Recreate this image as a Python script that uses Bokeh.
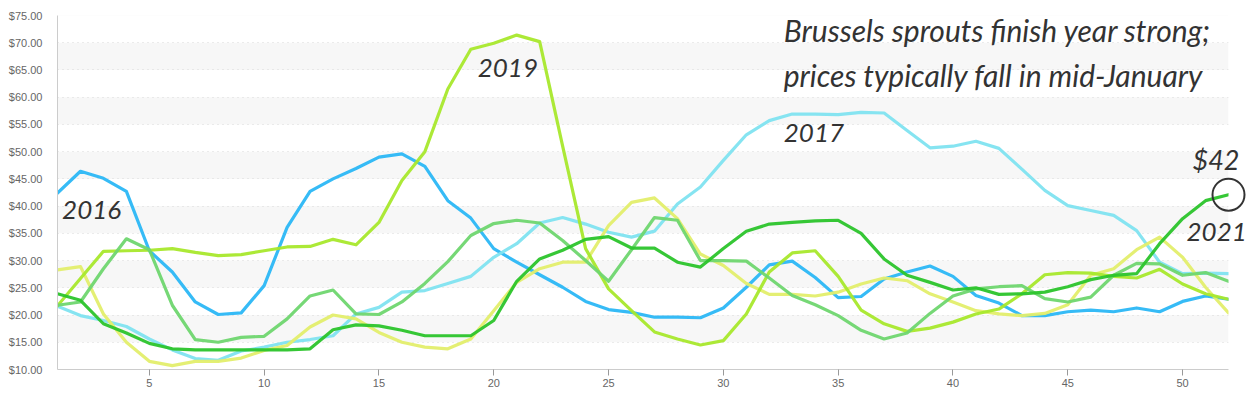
from bokeh.plotting import figure
from bokeh.models import Range1d, FixedTicker, NumeralTickFormatter, Label, ColumnDataSource
from bokeh.core.properties import value
from bokeh.embed import file_html
from bokeh.resources import INLINE

weeks = list(range(1, 53))

price_2016 = [42.4, 46.4, 45.1, 42.7, 31.8, 27.9, 22.4, 20.1, 20.4, 25.4,
              36.1, 42.7, 45.0, 46.9, 49.0, 49.6, 47.3, 41.0, 37.8, 32.2,
              29.7, 27.4, 25.1, 22.5, 21.0, 20.5, 19.6, 19.6, 19.5, 21.3,
              25.1, 29.2, 29.9, 26.9, 23.2, 23.4, 26.6, 27.9, 29.0, 27.1,
              23.6, 22.2, 19.9, 19.9, 20.6, 20.9, 20.6, 21.3, 20.6, 22.5,
              23.5, 22.9]
price_2017 = [21.6, 19.9, 19.0, 17.9, 15.6, 13.6, 12.0, 11.7, 13.4, 14.1,
              15.0, 15.5, 16.2, 20.2, 21.4, 24.2, 24.5, 25.8, 27.1, 30.6,
              33.1, 36.9, 37.9, 36.7, 35.2, 34.3, 35.4, 40.4, 43.5, 48.4,
              53.1, 55.7, 56.9, 56.9, 56.8, 57.2, 57.1, 53.9, 50.7, 51.0,
              51.9, 50.6, 46.8, 42.9, 40.1, 39.2, 38.3, 35.5, 29.7, 27.6,
              27.7, 27.6]
price_2018 = [28.3, 28.9, 20.2, 15.0, 11.5, 10.7, 11.5, 11.5, 12.1, 13.5,
              14.4, 17.8, 20.0, 19.3, 16.8, 15.0, 14.1, 13.8, 15.6, 20.8,
              26.0, 28.5, 29.7, 29.7, 36.4, 40.7, 41.5, 37.7, 31.2, 29.1,
              25.8, 23.8, 23.8, 23.5, 24.2, 25.7, 26.8, 26.3, 23.9, 22.4,
              20.8, 20.2, 19.9, 20.3, 21.9, 27.3, 28.5, 32.0, 34.3, 30.6,
              25.1, 20.4]
price_2019 = [21.7, 26.7, 31.7, 31.8, 31.9, 32.2, 31.5, 30.9, 31.1, 31.8,
              32.5, 32.6, 33.9, 32.9, 37.0, 44.7, 50.0, 61.5, 68.8, 69.9,
              71.4, 70.2, 51.0, 32.2, 24.8, 20.8, 16.9, 15.6, 14.5, 15.3,
              20.2, 27.9, 31.4, 31.8, 27.1, 20.9, 18.4, 17.0, 17.6, 18.7,
              20.2, 21.1, 23.9, 27.4, 27.8, 27.7, 27.1, 26.8, 28.4, 25.7,
              23.9, 22.9]
price_2020 = [21.8, 22.4, 28.5, 34.0, 32.0, 21.8, 15.5, 15.0, 15.9, 16.1,
              19.3, 23.5, 24.6, 20.2, 20.1, 22.4, 25.8, 29.8, 34.6, 36.8,
              37.4, 36.9, 33.7, 30.0, 26.2, 32.0, 37.9, 37.4, 30.0, 30.0,
              29.9, 26.8, 23.6, 21.9, 19.9, 17.2, 15.6, 16.7, 20.3, 23.5,
              24.8, 25.2, 25.4, 23.0, 22.4, 23.3, 27.3, 29.5, 29.4, 27.3,
              27.8, 26.2]
price_2021 = [23.9, 22.7, 18.4, 16.7, 14.8, 13.8, 13.6, 13.6, 13.6, 13.6,
              13.6, 13.8, 17.3, 18.2, 18.0, 17.2, 16.2, 16.2, 16.2, 19.0,
              26.2, 30.3, 31.9, 33.9, 34.4, 32.3, 32.3, 29.7, 28.8, 32.2,
              35.4, 36.7, 37.0, 37.3, 37.4, 35.0, 30.3, 27.3, 26.0, 24.6,
              25.0, 23.8, 23.9, 24.2, 25.2, 26.5, 27.3, 27.6, 33.1, 37.7,
              41.0, 42.1]

series_names = ["2016", "2017", "2018", "2019", "2020", "2021"]
series_colors = ["#2bb7f5", "#7fe3f0", "#e3ee6c", "#a8e82c", "#6fd66f", "#2bc42b"]
series_values = [price_2016, price_2017, price_2018, price_2019, price_2020, price_2021]

x_ticks = [5, 10, 15, 20, 25, 30, 35, 40, 45, 50]
y_ticks = [10, 15, 20, 25, 30, 35, 40, 45, 50, 55, 60, 65, 70, 75]
band_ticks = [5] + y_ticks + [80]

title_lines = ["Brussels sprouts finish year strong;", "prices typically fall in mid-January"]

p = figure(width=1249, height=392, output_backend="svg", toolbar_location=None,
           x_range=Range1d(1, 52), y_range=Range1d(10, 75),
           min_border_left=57, min_border_right=21, min_border_top=15, min_border_bottom=23)
p.outline_line_color = None
p.background_fill_color = "white"

p.xgrid.visible = False
p.ygrid.ticker = FixedTicker(ticks=band_ticks)
p.ygrid.grid_line_color = "#d9d9d9"
p.ygrid.grid_line_dash = "1 4"
p.ygrid.band_fill_color = "#f7f7f7"
p.ygrid.band_fill_alpha = 1.0

p.yaxis.ticker = FixedTicker(ticks=y_ticks)
p.yaxis.formatter = NumeralTickFormatter(format="$0.00")
p.xaxis.ticker = FixedTicker(ticks=x_ticks)
for ax in (p.xaxis, p.yaxis):
    ax.axis_line_color = "#cccccc"
    ax.major_label_text_color = "#666666"
    ax.major_label_text_font = "Liberation Sans"
    ax.major_label_text_font_size = "11px"
    ax.minor_tick_line_color = None
p.yaxis.major_tick_line_color = None
p.yaxis.major_label_standoff = 9
p.xaxis.major_tick_line_color = "#999999"
p.xaxis.major_tick_out = 6
p.xaxis.major_tick_in = 0
p.xaxis.major_label_standoff = 3

for name, color, vals in zip(series_names, series_colors, series_values):
    src = ColumnDataSource(dict(week=weeks, price=vals))
    p.line("week", "price", source=src, line_color=color, line_width=3.2,
           line_join="round", line_cap="round", line_alpha=0.95)

# circle around final 2021 value
end_x = weeks[-1]
end_y = price_2021[-1]
p.scatter(x=[end_x], y=[end_y], size=32, marker="circle",
          fill_alpha=0, line_color="#333333", line_width=2, level="overlay")

hand = dict(text_font="Lato", text_font_style="italic", text_color="#333333", level="overlay")
p.add_layout(Label(x=32.63, y=69.1, text=title_lines[0], text_font_size="30px", **hand))
p.add_layout(Label(x=32.63, y=60.7, text=title_lines[1], text_font_size="30px", **hand))
p.add_layout(Label(x=1.2, y=37.7, text="2016", text_font_size="26px", **hand))
p.add_layout(Label(x=19.3, y=63.7, text="2019", text_font_size="26px", **hand))
p.add_layout(Label(x=32.63, y=51.8, text="2017", text_font_size="26px", **hand))

# end-of-series labels (glyphs on overlay level so they are not clipped at the frame edge)
p.text(x=[end_x], y=[end_y], text=["$%d" % round(end_y)], x_offset=-36, y_offset=-19,
       text_font=value("Lato"), text_font_style="italic", text_color="#333333",
       text_font_size="27px", text_baseline="bottom", level="overlay")
p.text(x=[end_x], y=[end_y], text=[series_names[-1]], x_offset=-42, y_offset=46,
       text_font=value("Lato"), text_font_style="italic", text_color="#333333",
       text_font_size="26px", text_baseline="bottom", level="overlay")

open("out.html", "w").write(file_html(p, INLINE))
